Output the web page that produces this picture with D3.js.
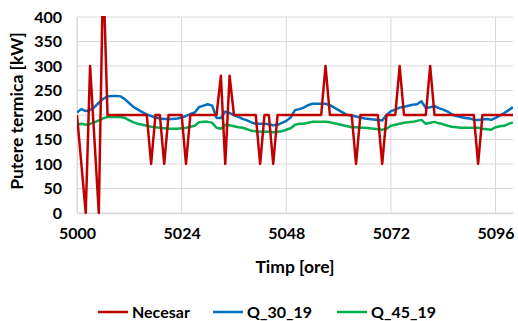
<!DOCTYPE html>
<html>
<head>
<meta charset="utf-8">
<script src="https://cdn.jsdelivr.net/npm/d3@7"></script>
<style>
  body { margin: 0; background: #fff; }
  svg text { font-family: Lato, "Open Sans", sans-serif; font-weight: 700; fill: #000; }
</style>
</head>
<body>
<script>
// hours 5000..5100
var startHour = 5000;

var necesar = [200, 100, 0, 300, 150, 0, 500, 200, 200, 200,
  200, 200, 200, 200, 200, 200, 200, 100, 200, 200,
  100, 200, 200, 200, 200, 100, 200, 200, 200, 200,
  200, 200, 200, 280, 100, 280, 200, 200, 200, 200,
  200, 200, 100, 200, 200, 100, 200, 200, 200, 200,
  200, 200, 200, 200, 200, 200, 200, 300, 200, 200,
  200, 200, 200, 200, 100, 200, 200, 200, 200, 200,
  100, 200, 200, 200, 300, 200, 200, 200, 200, 200,
  200, 300, 200, 200, 200, 200, 200, 200, 200, 200,
  200, 200, 100, 200, 200, 200, 200, 200, 200, 200, 200];

var q30 = [205, 212, 208, 210, 216, 225, 233, 238, 239, 239,
  238, 232, 224, 216, 211, 206, 201, 198, 195, 193,
  192, 192, 192, 193, 195, 198, 202, 205, 216, 219,
  222, 219, 194, 194, 207, 204, 200, 196, 192, 189,
  185, 182, 182, 182, 181, 179, 180, 184, 188, 195,
  210, 212, 215, 220, 223, 223, 223, 223, 220, 215,
  210, 205, 200, 199, 197, 195, 193, 192, 191, 190,
  189, 200, 208, 211, 215, 217, 219, 221, 222, 228,
  214, 216, 218, 214, 211, 207, 201, 198, 196, 194,
  193, 190, 190, 191, 192, 190, 194, 199, 204, 210, 216];

var q45 = [180, 182, 180, 182, 185, 189, 193, 196, 196, 196,
  196, 194, 189, 185, 182, 180, 178, 176, 175, 174,
  173, 172, 172, 172, 173, 174, 176, 178, 185, 186,
  186, 184, 174, 172, 180, 179, 177, 175, 174, 171,
  168, 167, 166, 166, 166, 165, 166, 167, 170, 173,
  180, 182, 182, 184, 186, 186, 186, 186, 185, 183,
  181, 179, 177, 175, 175, 174, 174, 173, 172, 171,
  170, 172, 178, 180, 182, 184, 185, 186, 188, 190,
  182, 184, 186, 183, 181, 178, 176, 175, 174, 174,
  174, 174, 174, 172, 171, 170, 175, 177, 178, 182, 185];

var xTicks = [5000, 5024, 5048, 5072, 5096];
var yTicks = [0, 50, 100, 150, 200, 250, 300, 350, 400];

var seriesNames = ["Necesar", "Q_30_19", "Q_45_19"];
var seriesColors = ["#C00000", "#0070C0", "#00B050"];
var seriesData = [necesar, q30, q45];

var width = 518, height = 321;
var margin = { top: 17, right: 5, bottom: 108, left: 77 };
var plotW = width - margin.left - margin.right;
var plotH = height - margin.top - margin.bottom;

var svg = d3.select("body").append("svg")
  .attr("width", width)
  .attr("height", height);

var x = d3.scaleLinear().domain([5000, 5100]).range([0, plotW]);
var y = d3.scaleLinear().domain([0, 400]).range([plotH, 0]);

var g = svg.append("g")
  .attr("transform", "translate(" + margin.left + "," + margin.top + ")");

// gridlines
g.append("g").selectAll("line").data(yTicks).enter().append("line")
  .attr("x1", 0).attr("x2", plotW)
  .attr("y1", function (d) { return y(d); })
  .attr("y2", function (d) { return y(d); })
  .attr("stroke", "#d9d9d9").attr("stroke-width", 1);

g.append("g").selectAll("line").data(xTicks).enter().append("line")
  .attr("x1", function (d) { return x(d); })
  .attr("x2", function (d) { return x(d); })
  .attr("y1", 0).attr("y2", plotH)
  .attr("stroke", "#d9d9d9").attr("stroke-width", 1);

// axes
var xAxis = g.append("g")
  .attr("transform", "translate(0," + plotH + ")")
  .call(d3.axisBottom(x).tickValues(xTicks).tickSize(0).tickPadding(15).tickFormat(d3.format("d")));
xAxis.select(".domain").attr("stroke", "#d9d9d9").attr("stroke-width", 1.5);
xAxis.selectAll("text").style("font-size", "16px");

var yAxis = g.append("g")
  .call(d3.axisLeft(y).tickValues(yTicks).tickSize(0).tickPadding(15));
yAxis.select(".domain").attr("stroke", "#d9d9d9").attr("stroke-width", 1);
yAxis.selectAll("text").style("font-size", "16px");

// lines
svg.append("clipPath").attr("id", "clip")
  .append("rect").attr("x", 0).attr("y", -1).attr("width", plotW).attr("height", plotH + 2);

var line = d3.line()
  .x(function (d, i) { return x(startHour + i); })
  .y(function (d) { return y(d); });

var lines = g.append("g").attr("clip-path", "url(#clip)");
[2, 1, 0].forEach(function (k) {
  lines.append("path")
    .datum(seriesData[k])
    .attr("fill", "none")
    .attr("stroke", seriesColors[k])
    .attr("stroke-width", 2.5)
    .attr("stroke-linejoin", "round")
    .attr("d", line);
});

// axis titles
svg.append("text")
  .attr("x", margin.left + plotW / 2)
  .attr("y", 273)
  .attr("text-anchor", "middle")
  .style("font-size", "17.5px")
  .text("Timp [ore]");

svg.append("text")
  .attr("transform", "translate(23," + (margin.top + plotH / 2 - 4) + ") rotate(-90)")
  .attr("text-anchor", "middle")
  .style("font-size", "17.5px")
  .text("Putere termica [kW]");

// legend
var legendX = [98, 213, 337];
var legend = svg.append("g");
seriesNames.forEach(function (name, i) {
  legend.append("line")
    .attr("x1", legendX[i]).attr("x2", legendX[i] + 30)
    .attr("y1", 312).attr("y2", 312)
    .attr("stroke", seriesColors[i]).attr("stroke-width", 2.5);
  legend.append("text")
    .attr("x", legendX[i] + 34)
    .attr("y", 318)
    .style("font-size", "16px")
    .text(name);
});
</script>
</body>
</html>
